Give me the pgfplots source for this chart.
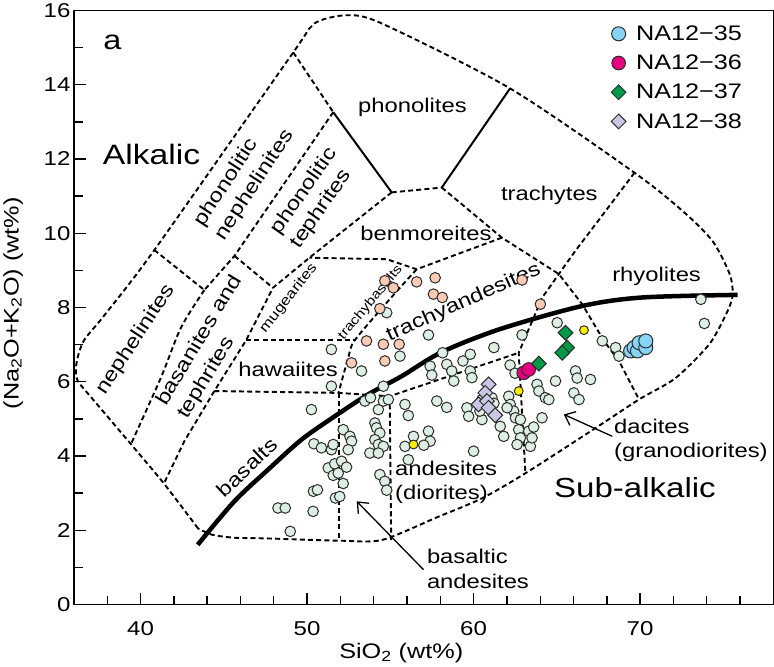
\documentclass[border=0pt]{standalone}
\usepackage{fontspec}
\setmainfont{Liberation Sans}[FakeStretch=1.2]
\usepackage{pgfplots}
\pgfplotsset{compat=1.18}
\usetikzlibrary{arrows.meta}
\definecolor{mint}{RGB}{221,238,226}
\definecolor{peach}{RGB}{249,202,180}
\definecolor{yel}{RGB}{255,238,0}
\definecolor{skyb}{RGB}{136,212,245}
\definecolor{mag}{RGB}{228,0,127}
\definecolor{grn}{RGB}{0,153,68}
\definecolor{lav}{RGB}{201,199,227}
\definecolor{edge}{RGB}{45,45,45}
\newcommand{\fs}[2]{\fontsize{#1}{#2}\selectfont}
\tikzset{lab/.style={font=\fs{19.8}{24}, inner sep=0pt}}
\begin{document}
\begin{tikzpicture}
\begin{axis}[
  scale only axis, width=698pt, height=593pt,
  xmin=36, xmax=78, ymin=0, ymax=16,
  clip=false,
  axis line style={line width=1.4pt},
  tick style={line width=1.4pt, black},
  tick align=inside,
  xtick pos=left, ytick pos=left,
  major tick length=12pt, minor tick length=8.5pt,
  xtick={40,50,60,70},
  minor xtick={38,42,44,46,48,52,54,56,58,62,64,66,68,72,74,76},
  ytick={0,2,4,6,8,10,12,14,16},
  minor ytick={1,3,5,7,9,11,13,15},
  /pgf/number format/assume math mode=true,
  ticklabel style={font=\fs{20}{24}},
  xticklabel style={yshift=-13pt},
  xlabel={SiO\textsubscript{2} (wt\%)},
  xlabel style={font=\fs{21}{24}, at={(rel axis cs:0.468,-0.082)}, anchor=center},
  ylabel={(Na\textsubscript{2}O+K\textsubscript{2}O) (wt\%)},
  ylabel style={font=\fs{21}{24}, at={(rel axis cs:-0.087,0.507)}, anchor=center},
  legend style={at={(rel axis cs:0.768,0.978)}, anchor=north west, draw=none, fill=none,
    font=\fs{21}{25}, row sep=9pt, inner sep=0pt},
  legend cell align=left,
  bnd/.style={line width=1.9pt, dash pattern=on 5pt off 3.2pt, black, forget plot},
  sol/.style={line width=2pt, black, forget plot},
]
% ---------- field boundaries ----------
\addplot[bnd, smooth, tension=0.45] coordinates {
(43.45,2.05)(41.40,3.26)(39.42,4.32)(37.13,5.53)(36.20,6.05)(36.15,6.50)(36.58,7.10)(37.79,7.77)(40.80,9.53)(49.17,14.87)(50.44,15.65)(52.37,15.87)(54.48,15.65)(62.19,13.90)(69.66,11.63)(72.55,10.60)(74.35,9.79)(75.38,8.90)(75.56,8.36)(75.26,7.91)(74.17,7.02)(72.13,6.10)(69.96,5.53)(67.31,4.75)(63.09,3.53)(60.50,2.86)(57.80,2.35)(54.50,1.74)(51.95,1.72)(47.67,1.78)(45.62,1.80)(44.30,1.88)(43.45,2.05)};
\addplot[bnd] coordinates {(49.17,14.87)(51.57,13.26)};
\addplot[sol] coordinates {(51.57,13.26)(55.08,11.10)};
\addplot[bnd] coordinates {(55.08,11.10)(58.09,11.23)};
\addplot[sol] coordinates {(62.19,13.90)(58.09,11.23)};
\addplot[bnd] coordinates {(58.09,11.23)(61.70,9.88)(65.12,8.90)(66.52,8.09)(67.83,7.10)(68.73,6.56)(69.94,5.52)};
\addplot[bnd] coordinates {(69.66,11.63)(67.93,10.60)(66.12,9.53)(65.12,8.90)(64.11,8.26)(62.71,6.78)(63.11,3.54)};
\addplot[bnd] coordinates {(61.70,9.88)(56.58,9.03)(54.78,9.30)(50.14,9.34)};
\addplot[bnd] coordinates {(55.08,11.10)(50.14,9.34)(47.95,8.53)(46.34,7.12)(44.43,5.75)(42.63,4.40)(41.40,3.26)};
\addplot[bnd] coordinates {(51.57,13.26)(45.64,9.39)(43.83,8.47)};
\addplot[bnd, smooth] coordinates {(43.83,8.47)(42.43,7.46)(41.22,6.11)(39.42,4.32)};
\addplot[bnd] coordinates {(40.82,9.55)(43.83,8.47)};
\addplot[bnd] coordinates {(45.64,9.39)(47.95,8.53)};
\addplot[bnd] coordinates {(46.34,7.12)(52.87,7.12)};
\addplot[bnd, smooth] coordinates {(56.58,9.03)(54.88,8.18)(52.87,7.12)(52.47,6.65)(51.89,5.70)};
\addplot[bnd] coordinates {(44.43,5.75)(51.89,5.70)(54.96,5.61)(62.71,6.78)};
\addplot[bnd] coordinates {(51.89,5.70)(51.89,1.72)};
\addplot[bnd] coordinates {(54.96,5.61)(55.05,1.74)};
% ---------- alkalic / subalkalic divide ----------
\addplot[line width=4.5pt, black, smooth, forget plot] coordinates {
(43.43,1.61)(45.63,2.78)(47.65,3.63)(49.66,4.44)(51.66,5.07)(53.67,5.66)(55.68,6.15)(58.09,6.80)(61.6,7.42)(66.52,8.04)(70.14,8.27)(75.86,8.34)};
% ---------- arrows ----------
\addplot[line width=1.3pt, black, forget plot, -{Straight Barb[length=9pt,width=15pt,line width=1.3pt]}] coordinates {(56.99,0.94)(52.98,2.78)};
\addplot[line width=1.3pt, black, forget plot, -{Straight Barb[length=9pt,width=15pt,line width=1.3pt]}] coordinates {(68.33,4.53)(65.42,5.12)};
% ---------- literature data ----------
\addplot[only marks, mark=*, mark size=5.3pt, mark options={fill=mint, draw=edge, line width=1pt}, forget plot] coordinates {
(48.25,2.60)(48.69,2.60)(48.99,1.97)(50.36,2.51)(50.26,5.25)(50.38,3.05)(50.62,3.09)(51.46,6.87)(51.46,5.88)(50.41,4.33)(50.86,4.22)(51.46,4.17)(51.57,4.31)(52.17,4.71)(52.57,4.53)(52.67,4.40)(52.47,4.17)(51.27,3.68)(51.66,3.79)(52.07,3.86)(52.37,3.70)(51.57,3.48)(51.87,3.54)(52.17,3.26)(51.70,2.87)(51.96,2.91)(53.27,6.29)(53.47,5.48)(53.81,5.57)(54.28,5.25)(54.58,5.88)(54.58,5.48)(54.88,5.52)(54.07,4.89)(54.17,4.76)(54.37,4.62)(54.07,4.44)(54.28,4.31)(54.58,4.26)(53.77,4.08)(54.28,4.08)(54.37,3.50)(54.67,3.32)(54.78,3.08)(54.78,7.86)(55.58,6.69)(55.88,5.39)(56.08,5.09)(57.79,5.48)(58.39,5.31)(57.39,6.42)(57.49,6.18)(57.29,7.26)(58.14,6.78)(55.88,4.26)(56.08,3.90)(56.39,4.53)(57.29,4.67)(57.39,4.40)(57.01,4.29)(58.39,6.47)(58.69,6.29)(58.81,6.02)(59.36,6.56)(59.80,6.74)(59.80,6.29)(59.90,6.11)(59.60,5.30)(59.70,5.07)(60.50,4.98)(60.00,4.13)(61.22,6.92)(62.91,7.26)(65.02,7.59)(62.19,6.45)(62.49,6.23)(60.50,5.52)(60.70,5.70)(61.10,5.57)(61.22,5.42)(60.38,5.21)(61.60,4.80)(61.81,4.53)(62.11,5.61)(62.20,5.39)(62.41,5.21)(62.51,5.03)(62.81,4.98)(62.01,5.30)(62.71,4.71)(62.81,4.49)(63.31,4.67)(63.61,4.78)(63.41,4.26)(62.61,4.31)(63.51,4.49)(63.81,5.93)(63.92,5.75)(64.31,5.57)(64.52,5.52)(64.11,5.03)(64.92,6.02)(66.12,6.29)(66.22,6.10)(67.02,6.06)(66.02,5.70)(66.33,5.52)(67.73,7.10)(68.53,6.92)(68.73,6.69)(69.43,6.83)(73.65,8.22)(73.86,7.57)};
\addplot[only marks, mark=*, mark size=5.3pt, mark options={fill=peach, draw=edge, line width=1pt}, forget plot] coordinates {
(54.67,8.72)(55.18,8.53)(56.58,8.69)(57.69,8.80)(57.59,8.36)(58.12,8.27)(54.37,7.97)(62.91,8.74)(64.01,8.09)(53.57,7.10)(54.58,7.01)(55.53,7.01)(54.67,6.56)(52.67,6.51)};
\addplot[only marks, mark=*, mark size=4.4pt, mark options={fill=yel, draw=edge, line width=1pt}, forget plot] coordinates {
(56.39,4.31)(62.71,5.75)(66.63,7.39)};
% ---------- samples ----------
\addplot[only marks, mark=*, mark size=7pt, mark options={fill=skyb, draw=edge, line width=1pt}] coordinates {
(69.43,6.83)(69.64,6.92)(69.84,6.83)(69.94,7.05)(70.34,6.92)(70.34,7.10)};
\addlegendentry{\hspace{8pt}NA12−35}
\addplot[only marks, mark=*, mark size=6.8pt, mark options={fill=mag, draw=edge, line width=1pt}] coordinates {
(63.01,6.24)(63.31,6.33)};
\addlegendentry{\hspace{8pt}NA12−36}
\addplot[only marks, mark=square*, mark size=5.2pt, mark options={rotate=45, fill=grn, draw=edge, line width=1pt}] coordinates {
(63.92,6.49)(65.52,7.32)(65.62,6.92)(65.32,6.78)};
\addlegendentry{\hspace{8pt}NA12−37}
\addplot[only marks, mark=square*, mark size=5.2pt, mark options={rotate=45, fill=lav, draw=edge, line width=1pt}] coordinates {
(60.90,5.93)(60.70,5.70)(60.30,5.39)(60.80,5.48)(60.90,5.30)(61.30,5.10)};
\addlegendentry{\hspace{8pt}NA12−38}
% ---------- labels ----------
\node[font=\fs{27}{30}, inner sep=0pt] at (axis cs:38.31,15.15) {a};
\node[font=\fs{28}{32}, inner sep=0pt] at (axis cs:40.66,12.12) {Alkalic};
\node[lab] at (axis cs:56.33,13.39) {phonolites};
\node[lab] at (axis cs:64.55,11.01) {trachytes};
\node[lab] at (axis cs:57.14,10.00) {benmoreites};
\node[lab] at (axis cs:70.99,8.85) {rhyolites};
\node[lab] at (axis cs:48.86,6.33) {hawaiites};
\node[lab, rotate=24] at (axis cs:59.40,8.13) {trachyandesites};
\node[font=\fs{14}{16}, inner sep=0pt, rotate=51.5] at (axis cs:48.89,8.25) {mugearites};
\node[font=\fs{13}{15}, inner sep=0pt, rotate=50] at (axis cs:53.81,8.13) {trachybasalts};
\node[lab, rotate=56.7] at (axis cs:39.72,7.14) {nephelinites};
\node[lab, rotate=59, align=left, font=\fs{19.8}{25}] at (axis cs:44.20,6.93) {basanites and\\tephrites};
\node[lab, rotate=57, align=left, font=\fs{19.8}{25}] at (axis cs:46.23,11.48) {phonolitic\\nephelinites};
\node[lab, rotate=55, align=left, font=\fs{19.8}{24}] at (axis cs:50.42,10.94) {phonolitic\\tephrites};
\node[lab, rotate=43.3] at (axis cs:46.39,3.70) {basalts};
\node[lab, align=left, anchor=west] at (axis cs:55.28,3.30) {andesites\\(diorites)};
\node[lab, align=left, anchor=west] at (axis cs:68.43,4.42) {dacites\\(granodiorites)};
\node[font=\fs{27.5}{32}, inner sep=0pt] at (axis cs:69.69,3.16) {Sub-alkalic};
\node[lab, align=left, anchor=west] at (axis cs:57.19,0.96) {basaltic\\andesites};
\end{axis}
\end{tikzpicture}
\end{document}
